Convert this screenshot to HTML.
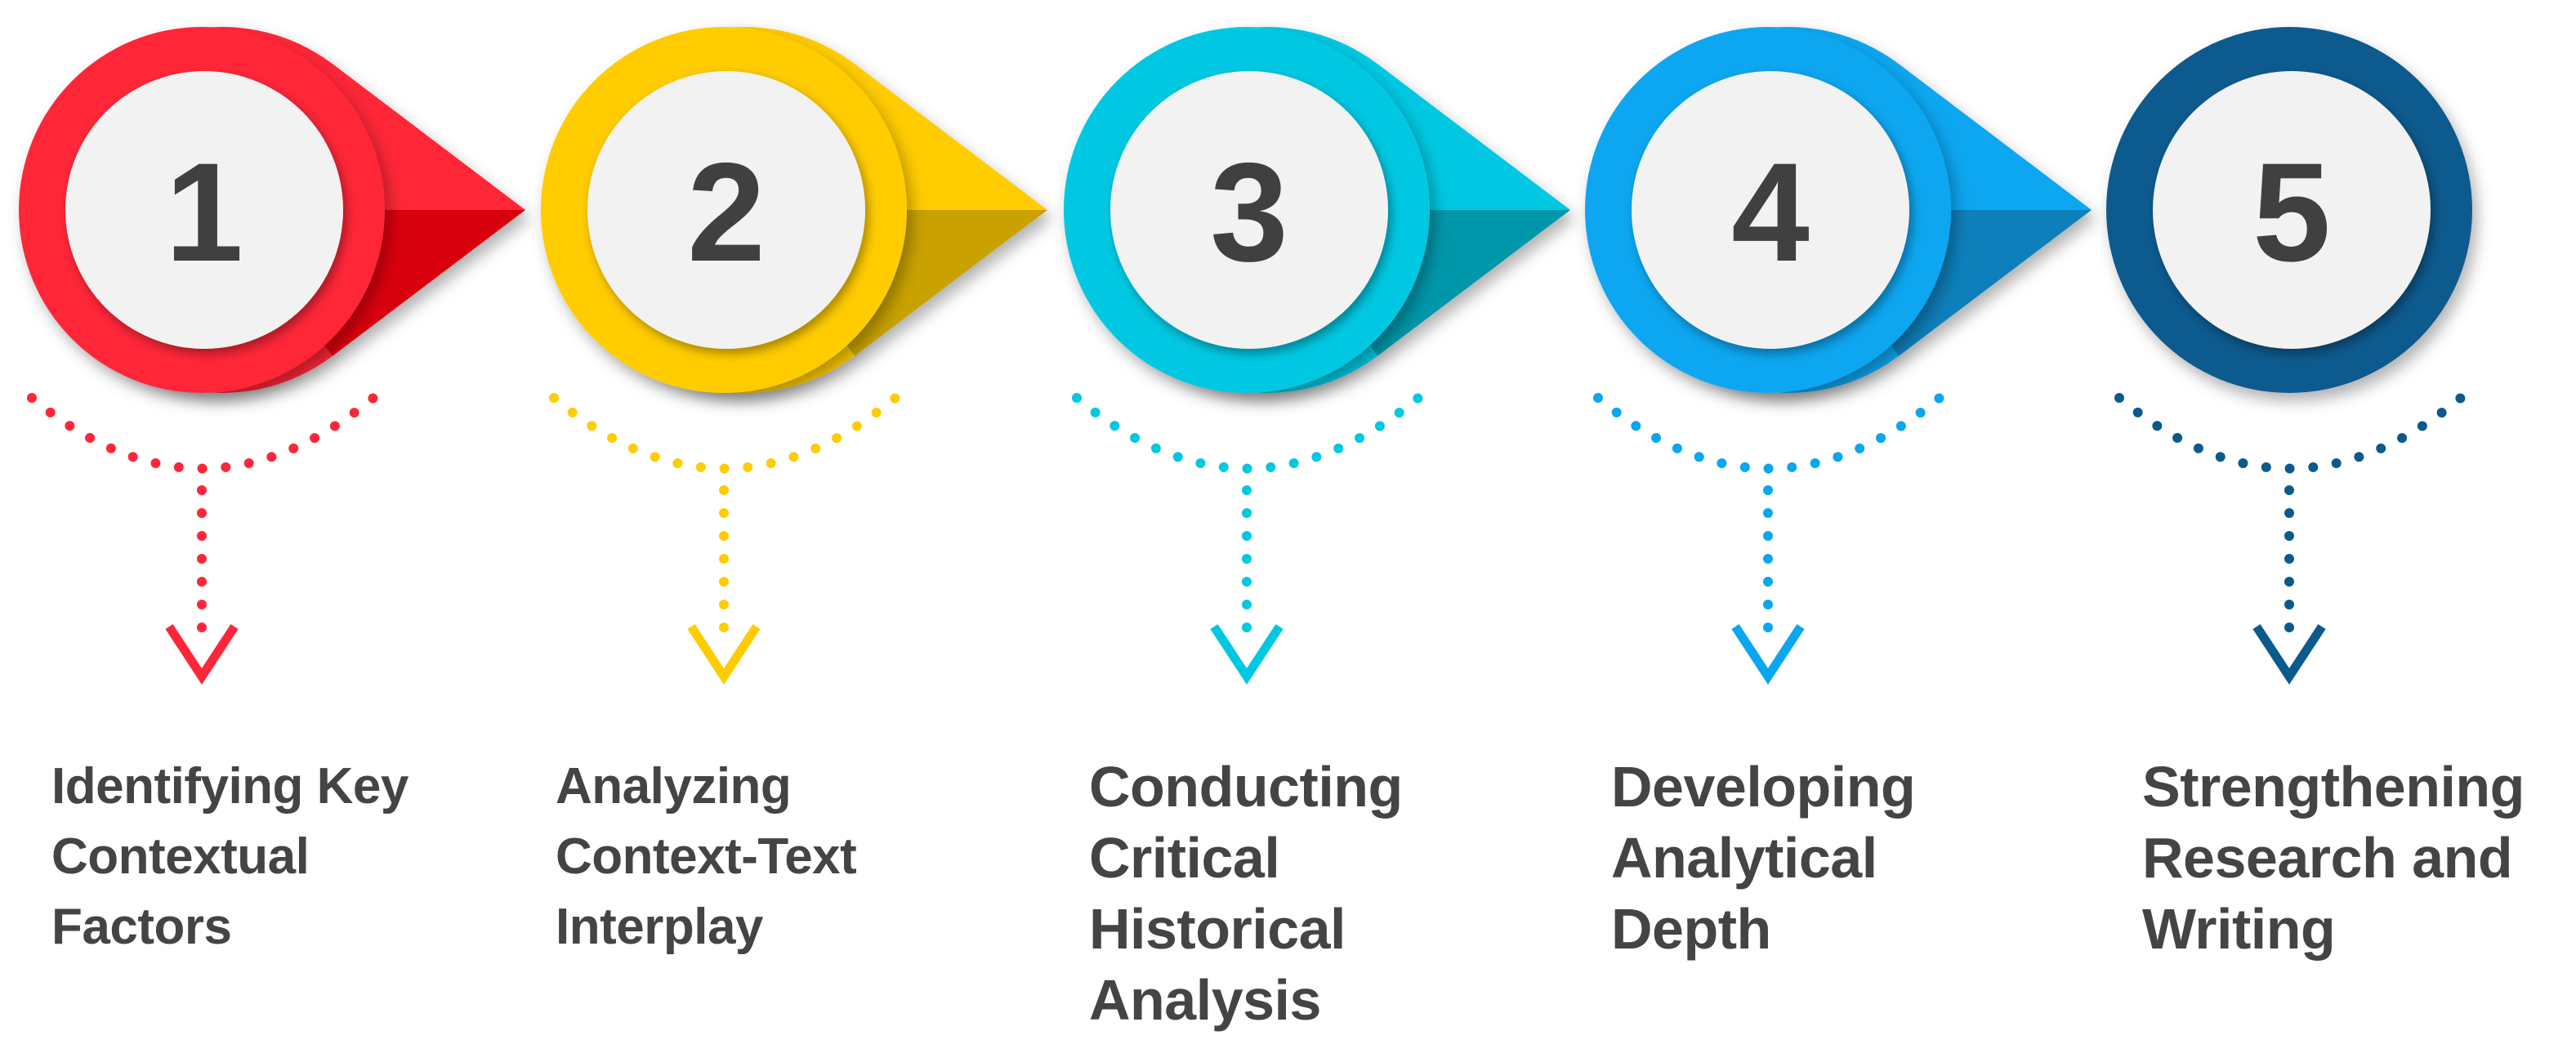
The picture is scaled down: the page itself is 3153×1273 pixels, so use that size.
<!DOCTYPE html>
<html><head><meta charset="utf-8">
<style>
html,body{margin:0;padding:0;background:#fff;}
body{width:3153px;height:1273px;overflow:hidden;position:relative;}
svg{position:absolute;left:0;top:0;}
.t{position:absolute;top:920px;font-family:"Liberation Sans",sans-serif;font-weight:bold;color:#444;}
.s{font-size:62px;line-height:86px;letter-spacing:-0.5px;}
.b{font-size:70px;line-height:87px;letter-spacing:-0.5px;}
</style></head><body>
<svg width="3153" height="1273" viewBox="0 0 3153 1273">
<defs>
<filter id="sh" x="-30%" y="-30%" width="160%" height="160%"><feDropShadow dx="6" dy="10" stdDeviation="9" flood-color="#000" flood-opacity="0.3"/></filter>
<filter id="ish" x="-30%" y="-30%" width="160%" height="160%"><feDropShadow dx="4" dy="6" stdDeviation="6" flood-color="#000" flood-opacity="0.35"/></filter>
</defs>
<g id="items"></g>
</svg>
<div class="t s" style="left:63px">Identifying Key<br>Contextual<br>Factors</div>
<div class="t s" style="left:680px">Analyzing<br>Context-Text<br>Interplay</div>
<div class="t b" style="left:1333px">Conducting<br>Critical<br>Historical<br>Analysis</div>
<div class="t b" style="left:1972px">Developing<br>Analytical<br>Depth</div>
<div class="t b" style="left:2622px">Strengthening<br>Research and<br>Writing</div>
<script>
const cols=[["#ff2639","#d9000f"],["#ffcc00","#c9a200"],["#00c8e2","#0097aa"],["#0aa6f0","#0780bb"],["#0b5a8e","#074574"]];
const cx=[247,886,1526,2164,2802];
let h="";
const cy=257,R=224;
for(let i=0;i<5;i++){
 const c=cx[i],[a,d]=cols[i];
 if(i<4){
  const bc=c+25, tip=c+396, dd=tip-bc, ang=Math.acos(R/dd);
  const tx=bc+R*Math.cos(ang), ty=R*Math.sin(ang);
  h+=`<g filter="url(#sh)"><circle cx="${bc}" cy="${cy}" r="${R}" fill="${a}"/>
  <polygon points="${bc},${cy} ${tx},${cy-ty} ${tip},${cy}" fill="${a}"/>
  <polygon points="${bc},${cy} ${tip},${cy} ${tx},${cy+ty}" fill="${d}"/></g>`;
 }
 h+=`<circle cx="${c}" cy="${cy}" r="${R}" fill="${a}" filter="url(#sh)"/>
 <circle cx="${c+3}" cy="${cy}" r="170" fill="#f2f2f2" filter="url(#ish)"/>
 <text x="${c+3}" y="${cy+62}" text-anchor="middle" font-family="Liberation Sans,sans-serif" font-weight="bold" font-size="172" fill="#404040">${i+1}</text>
 <path class="arc" d="M${c-208},487 Q${c},660 ${c+210},487" fill="none" stroke="${a}" stroke-width="12" stroke-linecap="round"/>
 <path d="M${c},600 L${c},775" fill="none" stroke="${a}" stroke-width="12" stroke-linecap="round" stroke-dasharray="0 28"/>
 <polyline points="${c-40},767 ${c},828 ${c+40},767" fill="none" stroke="${a}" stroke-width="11" stroke-linejoin="miter"/>`;
}
document.getElementById("items").innerHTML=h;
document.querySelectorAll(".arc").forEach(p=>{const L=p.getTotalLength();p.setAttribute("stroke-dasharray","0 "+(L/16-0.05).toFixed(3));});
</script>
</body></html>
